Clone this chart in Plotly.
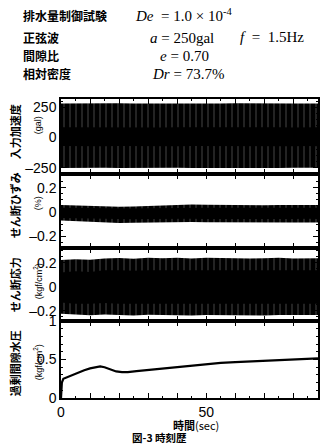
import plotly.graph_objects as go

# ---------------- data ----------------
# envelope sample times (sec)
t_env = [0, 5, 10, 15, 20, 25, 30, 35, 40, 45, 50, 55, 60, 65, 70, 75, 80, 85, 88.5]

# input acceleration (gal): outer (peak) envelope and dense core
acc_up = [282, 284, 283, 282, 284, 283, 282, 284, 283, 284, 282, 283, 284, 282, 283, 284, 282, 283, 283]
acc_lo = [-252, -250, -253, -251, -252, -250, -253, -251, -250, -252, -253, -251, -250, -252, -251, -253, -250, -252, -251]
acc_core_up = [85, 84, 86, 85, 84, 86, 85, 84, 85, 86, 84, 85, 86, 84, 85, 86, 84, 85, 85]
acc_core_lo = [-70, -72, -70, -71, -70, -72, -71, -70, -72, -70, -71, -72, -70, -71, -70, -72, -71, -70, -71]

# shear strain (%)
gam_up = [0.058, 0.055, 0.048, 0.045, 0.044, 0.046, 0.05, 0.055, 0.06, 0.062, 0.06, 0.058, 0.057, 0.058, 0.057, 0.058, 0.056, 0.057, 0.058]
gam_lo = [-0.07, -0.075, -0.085, -0.09, -0.09, -0.088, -0.085, -0.082, -0.08, -0.082, -0.085, -0.086, -0.088, -0.087, -0.086, -0.088, -0.087, -0.086, -0.087]
gam_core_up = [0.035, 0.033, 0.03, 0.028, 0.028, 0.03, 0.032, 0.034, 0.036, 0.037, 0.036, 0.035, 0.034, 0.035, 0.034, 0.035, 0.034, 0.035, 0.035]
gam_core_lo = [-0.05, -0.052, -0.058, -0.062, -0.062, -0.06, -0.058, -0.055, -0.053, -0.055, -0.057, -0.058, -0.058, -0.057, -0.056, -0.058, -0.057, -0.056, -0.057]

# shear stress (kgf/cm2)
tau_up = [0.225, 0.232, 0.226, 0.238, 0.242, 0.236, 0.244, 0.24, 0.243, 0.238, 0.244, 0.24, 0.242, 0.238, 0.24, 0.243, 0.238, 0.24, 0.24]
tau_lo = [-0.225, -0.232, -0.236, -0.23, -0.234, -0.238, -0.232, -0.236, -0.234, -0.238, -0.234, -0.236, -0.232, -0.236, -0.238, -0.234, -0.236, -0.234, -0.235]
tau_core_up = [0.12, 0.13, 0.125, 0.14, 0.14, 0.135, 0.14, 0.14, 0.14, 0.135, 0.14, 0.14, 0.14, 0.135, 0.14, 0.14, 0.135, 0.14, 0.14]
tau_core_lo = [-0.13, -0.14, -0.14, -0.135, -0.14, -0.14, -0.135, -0.14, -0.14, -0.14, -0.135, -0.14, -0.14, -0.14, -0.14, -0.135, -0.14, -0.14, -0.14]

# excess pore water pressure (kgf/cm2)
t_pw = [0, 0.3, 0.8, 2, 4, 6, 8, 10, 12, 13.5, 15, 17, 19, 21, 23, 26, 30, 34, 38, 42, 46, 50, 55, 60, 65, 70, 75, 80, 85, 88.5]
u_pw = [0, 0.2, 0.25, 0.27, 0.30, 0.33, 0.36, 0.385, 0.40, 0.41, 0.40, 0.37, 0.345, 0.335, 0.335, 0.35, 0.365, 0.385, 0.40, 0.415, 0.425, 0.44, 0.455, 0.465, 0.475, 0.485, 0.495, 0.503, 0.512, 0.515]

# axis tick labels
acc_ticks = [-250, 0, 250]
acc_labels = ["\u2013250", "0", "250"]
small_ticks = [-0.2, 0, 0.2]
small_labels = ["\u20130.2", "0", "0.2"]
pw_ticks = [0, 0.5, 1]
pw_labels = ["0", "0.5", "1"]
t_ticks = [0, 50]
t_labels = ["0", "50"]

# ---------------- figure ----------------
W, H = 323, 445
L, R, T, B = 61, 320, 99, 398


def fx(x):
    return (x - L) / (R - L)


def fy(y):
    return (B - y) / (B - T)


fig = go.Figure()

outer_pattern = dict(shape="|", bgcolor="black", fgcolor="#9a9a9a", size=6, solidity=0.15)


def band(xa, ya, up, lo, outer):
    fig.add_trace(go.Scatter(x=t_env, y=up, mode="lines", line=dict(width=0, color="black"),
                             xaxis=xa, yaxis=ya, showlegend=False, hoverinfo="skip"))
    kw = dict(fillpattern=outer_pattern, fillcolor="black") if outer else dict(fillcolor="black")
    fig.add_trace(go.Scatter(x=t_env, y=lo, mode="lines", line=dict(width=0, color="black"),
                             fill="tonexty", xaxis=xa, yaxis=ya, showlegend=False,
                             hoverinfo="skip", **kw))


band("x", "y", acc_up, acc_lo, True)
band("x", "y", acc_core_up, acc_core_lo, False)
band("x2", "y2", gam_up, gam_lo, True)
band("x2", "y2", gam_core_up, gam_core_lo, False)
band("x3", "y3", tau_up, tau_lo, True)
band("x3", "y3", tau_core_up, tau_core_lo, False)
fig.add_trace(go.Scatter(x=t_pw, y=u_pw, mode="lines", line=dict(width=2.2, color="black"),
                         xaxis="x4", yaxis="y4", showlegend=False))

tickfont = dict(family="Liberation Sans, Arial, sans-serif", size=14, color="black")
domains = [(fy(174), 1.0), (fy(248), fy(174)), (fy(321), fy(248)), (0.0, fy(321))]
yranges = [(-302, 320), (-0.298, 0.315), (-0.285, 0.325), (0, 1)]
ytv = [(acc_ticks, acc_labels, 50), (small_ticks, small_labels, 0.05),
       (small_ticks, small_labels, 0.05), (pw_ticks, pw_labels, 0.1)]

layout = dict(width=W, height=H, margin=dict(l=L, r=W - R, t=T, b=H - B),
              paper_bgcolor="white", plot_bgcolor="white", showlegend=False)

for i in range(4):
    sfx = "" if i == 0 else str(i + 1)
    tv, tt, mdt = ytv[i]
    layout["yaxis" + sfx] = dict(
        domain=list(domains[i]), range=list(yranges[i]), anchor="x" + sfx,
        tickvals=tv, ticktext=tt, ticks="inside", ticklen=5, tickwidth=1,
        tickcolor="black", showline=True, linecolor="black", linewidth=1.5,
        mirror="ticks", showgrid=False, zeroline=False, tickfont=tickfont,
        minor=dict(dtick=mdt, ticks="inside", ticklen=2.5, tickcolor="black", showgrid=False),
    )
    layout["xaxis" + sfx] = dict(
        range=[0, 88.5], anchor="y" + sfx, ticks="inside", ticklen=5, tickwidth=1,
        tickcolor="black", showline=True, linecolor="black", linewidth=1.5,
        mirror="ticks", showgrid=False, zeroline=False, dtick=10, tick0=0,
        showticklabels=(i == 3), tickfont=tickfont,
        minor=dict(dtick=5, ticks="inside", ticklen=2.5, tickcolor="black", showgrid=False),
    )
    if i != 0:
        layout["xaxis" + sfx]["matches"] = "x"
    if i == 3:
        layout["xaxis" + sfx]["tickvals"] = list(range(0, 90, 10))
        layout["xaxis" + sfx]["ticktext"] = [t_labels[t_ticks.index(v)] if v in t_ticks else "" for v in range(0, 90, 10)]

fig.update_layout(**layout)

jp = "Noto Sans CJK JP"
serif = "Liberation Serif, Times New Roman, serif"
sans = "Liberation Sans, Arial, sans-serif"


def ann(text, x, y, size, family, xanchor="left", angle=0, color="black"):
    fig.add_annotation(text=text, x=fx(x), y=fy(y), xref="paper", yref="paper",
                       xanchor=xanchor, yanchor="middle", showarrow=False, textangle=angle,
                       font=dict(family=family, size=size, color=color))


# header block
ann("<b>排水量制御試験</b>", 21, 16, 12, jp)
ann("<i>De</i>  = 1.0 × 10<sup>-4</sup>", 134, 15, 15, serif)
ann("<b>正弦波</b>", 21, 38, 12, jp)
ann("<i>a</i> = 250gal", 149, 38, 15, serif)
ann("<i>f</i>  =  1.5Hz", 239, 37, 15, serif)
ann("<b>間隙比</b>", 21, 55, 12, jp)
ann("<i>e</i> = 0.70", 159, 56, 15, serif)
ann("<b>相対密度</b>", 21, 73, 12, jp)
ann("<i>Dr</i> = 73.7%", 151, 74, 15, serif)

# y-axis titles
ann("<b>入力加速度</b>", 15, 132, 11, jp, "center", -90)
ann("(gal)", 38, 125, 9, sans, "center", -90)
ann("<b>せん断ひずみ</b>", 15, 205, 11, jp, "center", -90)
ann("(%)", 38, 203, 9, sans, "center", -90)
ann("<b>せん断応力</b>", 15, 285, 11, jp, "center", -90)
ann("(kgf/cm<sup>2</sup>)", 38, 281, 9, sans, "center", -90)
ann("<b>過剰間隙水圧</b>", 15, 363, 11, jp, "center", -90)
ann("(kgf/cm<sup>2</sup>)", 38, 362, 9, sans, "center", -90)

# x title and caption
ann("<b>時間</b>(sec)", 197, 424.5, 11, jp, "center")
ann("<b>図-3 時刻歴</b>", 160, 437.5, 10.5, jp, "center")

fig.write_html("out.html", config={"displayModeBar": False},
               post_script="document.body.style.margin='0';document.body.style.overflow='hidden';")
